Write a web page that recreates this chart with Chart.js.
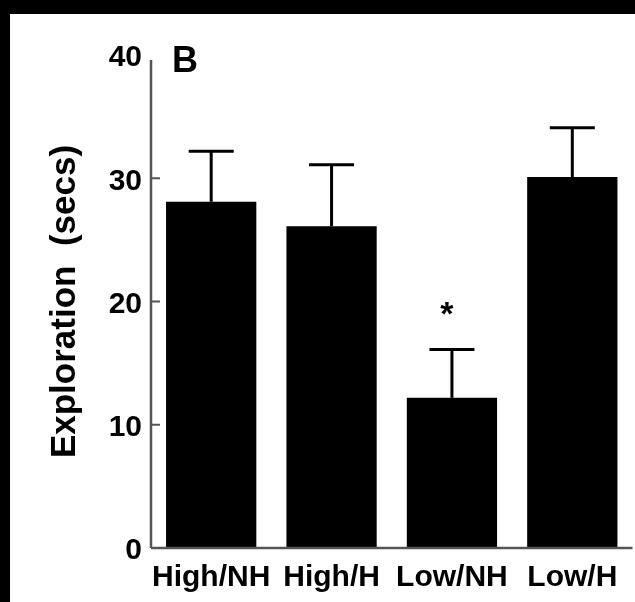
<!DOCTYPE html>
<html>
<head>
<meta charset="utf-8">
<script src="https://cdn.jsdelivr.net/npm/chart.js@4.4.1/dist/chart.umd.min.js"></script>
<style>
  html, body { margin: 0; padding: 0; background: #000; }
  #wrap { position: absolute; left: 10px; top: 14px; width: 625px; height: 588px; background: #fff; }
</style>
</head>
<body>
<div id="wrap"><canvas id="c" width="625" height="588"></canvas></div>
<script>
// exploration time per group, mean and upper error (secs)
const groups = ['High/NH', 'High/H', 'Low/NH', 'Low/H'];
const means = [28.1, 26.1, 12.2, 30.1];
const errs = [4.1, 5.0, 3.9, 4.0];
const marks = ['', '', '*', ''];
const yTicks = [0, 10, 20, 30, 40];

const FONT = '"Liberation Sans", Arial, Helvetica, sans-serif';

// error bars, significance mark, panel letter and the hand drawn axes
const extras = {
  id: 'extras',
  afterDatasetsDraw(chart) {
    const ctx = chart.ctx;
    const y = chart.scales.y;
    const area = chart.chartArea;
    const bars = chart.getDatasetMeta(0).data;
    ctx.save();
    ctx.strokeStyle = '#000';
    ctx.lineWidth = 3;
    bars.forEach((bar, i) => {
      const top = y.getPixelForValue(means[i]);
      const hi = y.getPixelForValue(means[i] + errs[i]);
      ctx.beginPath();
      ctx.moveTo(bar.x, top);
      ctx.lineTo(bar.x, hi);
      ctx.moveTo(bar.x - 22.5, hi);
      ctx.lineTo(bar.x + 22.5, hi);
      ctx.stroke();
      if (marks[i]) {
        ctx.fillStyle = '#000';
        ctx.font = 'bold 34px ' + FONT;
        ctx.textAlign = 'center';
        ctx.textBaseline = 'alphabetic';
        const m = ctx.measureText(marks[i]);
        const cy = y.getPixelForValue(means[i] + errs[i] + 3.3);
        ctx.fillText(marks[i], bar.x - 5, cy + (m.actualBoundingBoxAscent - m.actualBoundingBoxDescent) / 2);
      }
    });

    // axes
    ctx.strokeStyle = '#555';
    ctx.lineWidth = 2.5;
    ctx.beginPath();
    ctx.moveTo(area.left, y.getPixelForValue(0));
    ctx.lineTo(area.left, y.getPixelForValue(39.6));
    ctx.moveTo(area.left, y.getPixelForValue(0));
    ctx.lineTo(area.right, y.getPixelForValue(0));
    ctx.stroke();
    ctx.lineWidth = 2;
    ctx.beginPath();
    yTicks.slice(1, -1).forEach(v => {
      const py = y.getPixelForValue(v);
      ctx.moveTo(area.left, py);
      ctx.lineTo(area.left + 9, py);
    });
    ctx.stroke();

    ctx.fillStyle = '#000';
    ctx.font = 'bold 36px ' + FONT;
    ctx.textAlign = 'left';
    ctx.textBaseline = 'alphabetic';
    ctx.fillText('B', area.left + 21, area.top + 17);
    ctx.restore();
  }
};

new Chart(document.getElementById('c').getContext('2d'), {
  type: 'bar',
  data: {
    labels: groups,
    datasets: [{
      data: means,
      backgroundColor: '#000',
      borderWidth: 0,
      barPercentage: 0.75,
      categoryPercentage: 1
    }]
  },
  options: {
    responsive: false,
    animation: false,
    devicePixelRatio: 1,
    layout: { padding: { left: 34, top: 41, right: 2.5, bottom: 0 } },
    plugins: { legend: { display: false }, tooltip: { enabled: false } },
    scales: {
      x: {
        grid: { display: false, drawTicks: false },
        border: { display: false },
        ticks: {
          color: '#000',
          font: { family: FONT, size: 30, weight: 'bold' },
          padding: 12,
          maxRotation: 0,
          autoSkip: false
        },
        afterFit(s) { s.height = 54; }
      },
      y: {
        min: 0,
        max: 40,
        grid: { display: false, drawTicks: false },
        border: { display: false },
        afterBuildTicks(s) { s.ticks = yTicks.map(v => ({ value: v })); },
        ticks: {
          color: '#000',
          font: { family: FONT, size: 30, weight: 'bold' },
          padding: 9,
          labelOffset: 3
        },
        title: {
          display: true,
          text: 'Exploration  (secs)',
          color: '#000',
          font: { family: FONT, size: 35, weight: 'bold' },
          padding: { top: 0, bottom: 0 }
        },
        afterFit(s) { s.width = 107; }
      }
    }
  },
  plugins: [extras]
});
</script>
</body>
</html>
